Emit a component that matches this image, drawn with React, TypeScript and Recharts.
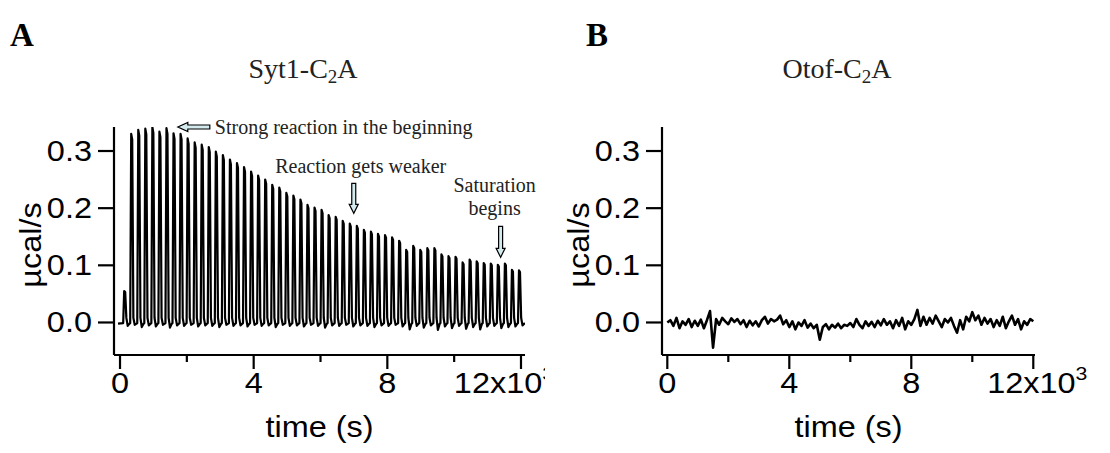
import React from 'react';
import { LineChart, Line, XAxis, YAxis, ReferenceDot, Label } from 'recharts';

const SANS = '"Liberation Sans", Arial, Helvetica, sans-serif';
const SERIF = '"Liberation Serif", "Times New Roman", serif';

// ---------- shared axis ticks ----------
const xTicks = [0, 2000, 4000, 6000, 8000, 10000, 12000];
const xTickLabels = ['0', '', '4', '', '8', '', '12x10'];
const xExponent = '3';
const yTicks = [0, 0.1, 0.2, 0.3];
const yTickLabels = ['0.0', '0.1', '0.2', '0.3'];

// ---------- Panel A: Syt1-C2A (ITC injections) ----------
const injectionTimesA = [120, 330, 541, 752, 963, 1174, 1385, 1596, 1807, 2018, 2229, 2440, 2651, 2862, 3073, 3284, 3495, 3706, 3917, 4128, 4339, 4550, 4761, 4972, 5183, 5394, 5605, 5816, 6027, 6238, 6449, 6660, 6871, 7082, 7293, 7504, 7715, 7926, 8137, 8348, 8559, 8770, 8981, 9192, 9403, 9614, 9825, 10036, 10247, 10458, 10669, 10880, 11091, 11302, 11513, 11724, 11935];
const peakHeightsA = [0.055,
  0.330, 0.337, 0.339, 0.342, 0.334, 0.340, 0.331, 0.330, 0.322, 0.315,
  0.311, 0.307, 0.299, 0.293, 0.285, 0.279, 0.272, 0.264, 0.257, 0.250,
  0.241, 0.236, 0.227, 0.222, 0.215, 0.206, 0.201, 0.197, 0.188, 0.185,
  0.178, 0.173, 0.169, 0.162, 0.159, 0.155, 0.153, 0.149, 0.143, 0.127,
  0.134, 0.127, 0.130, 0.130, 0.119, 0.116, 0.115, 0.105, 0.110, 0.107,
  0.104, 0.103, 0.101, 0.103, 0.092, 0.091];
const dipsA = [-0.006, -0.004, -0.008, -0.005, -0.007, -0.004, -0.009, -0.005, -0.006, -0.004,
  -0.007, -0.005, -0.006, -0.008, -0.004, -0.006, -0.005, -0.007, -0.004, -0.006,
  -0.005, -0.008, -0.004, -0.006, -0.005, -0.007, -0.004, -0.006, -0.009, -0.005,
  -0.006, -0.004, -0.007, -0.005, -0.006, -0.008, -0.005, -0.006, -0.004, -0.007,
  -0.012, -0.006, -0.009, -0.005, -0.013, -0.007, -0.010, -0.006, -0.011, -0.008,
  -0.012, -0.007, -0.006, -0.010, -0.008, -0.007, -0.005];
const traceStartA = { t: -60, v: -0.002 };
const traceEndA = { t: 12060, v: -0.004 };

// ---------- Panel B: Otof-C2A (flat noisy trace) ----------
const timesB = [0, 100, 200, 300, 400, 500, 600, 700, 800, 900, 1000, 1100, 1200, 1300, 1400, 1500, 1600, 1700, 1800, 1900, 2000, 2100, 2200, 2300, 2400, 2500, 2600, 2700, 2800, 2900, 3000, 3100, 3200, 3300, 3400, 3500, 3600, 3700, 3800, 3900, 4000, 4100, 4200, 4300, 4400, 4500, 4600, 4700, 4800, 4900, 5000, 5100, 5200, 5300, 5400, 5500, 5600, 5700, 5800, 5900, 6000, 6100, 6200, 6300, 6400, 6500, 6600, 6700, 6800, 6900, 7000, 7100, 7200, 7300, 7400, 7500, 7600, 7700, 7800, 7900, 8000, 8100, 8200, 8300, 8400, 8500, 8600, 8700, 8800, 8900, 9000, 9100, 9200, 9300, 9400, 9500, 9600, 9700, 9800, 9900, 10000, 10100, 10200, 10300, 10400, 10500, 10600, 10700, 10800, 10900, 11000, 11100, 11200, 11300, 11400, 11500, 11600, 11700, 11800, 11900, 12000];
const valuesB = [0.000, 0.004, -0.006, 0.008, -0.010, 0.002, -0.004, 0.006, -0.008, 0.003,
  -0.006, 0.005, -0.010, 0.004, 0.020, -0.044, 0.006, -0.004, 0.008, 0.002,
  -0.003, 0.007, 0.001, 0.006, -0.003, 0.004, -0.008, 0.003, -0.005, 0.002,
  -0.007, 0.004, 0.010, -0.002, 0.006, 0.002, 0.005, 0.012, -0.003, 0.004,
  -0.008, 0.002, -0.012, 0.000, -0.006, 0.004, -0.009, -0.002, -0.010, -0.004,
  -0.030, -0.008, -0.003, -0.012, -0.004, -0.009, -0.002, -0.010, -0.004, -0.006,
  -0.001, -0.008, 0.006, -0.004, -0.010, 0.002, -0.006, 0.001, -0.008, 0.003,
  -0.005, 0.006, -0.004, 0.002, -0.010, 0.004, -0.006, 0.008, -0.012, 0.002,
  -0.004, 0.006, 0.022, -0.006, 0.010, -0.004, 0.008, -0.002, 0.012, 0.002,
  -0.008, 0.006, 0.000, 0.008, -0.006, -0.018, 0.004, -0.012, 0.010, 0.002,
  0.018, 0.004, 0.012, -0.004, 0.008, -0.002, 0.006, -0.008, 0.004, -0.006,
  0.010, -0.010, 0.002, 0.012, -0.004, 0.006, -0.012, 0.002, -0.004, 0.006,
  0.002];

// ---------- build tables for the library ----------
const dataA: { t: number; v: number }[] = [traceStartA];
injectionTimesA.forEach((T, i) => {
  const p = peakHeightsA[i];
  dataA.push({ t: T - 25, v: -0.001 });
  dataA.push({ t: T + 5, v: p });
  dataA.push({ t: T + 35, v: p * 0.97 });
  dataA.push({ t: T + 70, v: 0.008 });
  dataA.push({ t: T + 110, v: dipsA[i] });
  dataA.push({ t: T + 165, v: -0.002 });
});
dataA.push(traceEndA);

const dataB = timesB.map((t, i) => ({ t, v: valuesB[i] }));

// ---------- styling ----------
const TICK_FONT = 29;
const TICK_SX = 1.12;

const SText = ({ x, y, sx = 1, anchor = 'middle', size, family = SANS, weight = 'normal', fill = '#000', children }: any) => (
  <text
    transform={`translate(${x} ${y}) scale(${sx} 1)`}
    x={0}
    y={0}
    textAnchor={anchor}
    fontFamily={family}
    fontSize={size}
    fontWeight={weight}
    fill={fill}
  >
    {children}
  </text>
);

const makeXTick = (lastShift: number) => (props: any) => {
  const { x, y, payload } = props;
  const idx = xTicks.indexOf(payload.value);
  const label = xTickLabels[idx];
  const major = label !== '';
  const isLast = idx === xTicks.length - 1;
  return (
    <g>
      <line x1={x} y1={y} x2={x} y2={y + (major ? 14 : 7)} stroke="#000" strokeWidth={2.2} />
      {major && (
        <SText x={x + (isLast ? lastShift : 0)} y={y + 38} size={TICK_FONT} sx={TICK_SX}>
          {label}
          {isLast && (
            <tspan fontSize={19} dy={-13}>
              {xExponent}
            </tspan>
          )}
        </SText>
      )}
    </g>
  );
};

const YTick = (props: any) => {
  const { x, y, payload } = props;
  const idx = yTicks.findIndex((v) => Math.abs(v - payload.value) < 1e-9);
  return (
    <g>
      <line x1={x - 16} y1={y} x2={x} y2={y} stroke="#000" strokeWidth={2.2} />
      <SText x={x - 22} y={y + 10} size={TICK_FONT} sx={TICK_SX} anchor="end">
        {yTickLabels[idx]}
      </SText>
    </g>
  );
};

const xTitle = (props: any) => {
  const { viewBox } = props;
  return (
    <SText x={viewBox.x + viewBox.width / 2} y={viewBox.y + 82} size={TICK_FONT} sx={TICK_SX}>
      time (s)
    </SText>
  );
};

const yTitle = (props: any) => {
  const { viewBox } = props;
  const cx = viewBox.x + 17;
  const cy = viewBox.y + viewBox.height / 2 + 4;
  return (
    <text
      transform={`translate(${cx} ${cy}) rotate(-90) scale(${TICK_SX} 1)`}
      x={0}
      y={0}
      textAnchor="middle"
      dominantBaseline="central"
      fontFamily={SANS}
      fontSize={TICK_FONT}
      fill="#000"
    >
      µcal/s
    </text>
  );
};

const ARROW_FILL = '#d3ebef';

const arrowPoly = (pts: number[][], cx: number, cy: number) =>
  pts.map(([a, b]) => `${cx + a},${cy + b}`).join(' ');

const StrongNote = (props: any) => {
  const { cx, cy } = props;
  const pts = [[0, 0], [10, -4.5], [10, -2], [32, -2], [32, 2], [10, 2], [10, 4.5]];
  return (
    <g>
      <polygon points={arrowPoly(pts, cx, cy)} fill={ARROW_FILL} stroke="#000" strokeWidth={1.2} />
      <text x={cx + 37} y={cy + 7} fontFamily={SERIF} fontSize={20} fill="#222">
        Strong reaction in the beginning
      </text>
    </g>
  );
};

const downArrow = (cx: number, cy: number, len: number) => {
  const pts = [[0, 0], [-4.5, -9], [-2, -9], [-2, -len], [2, -len], [2, -9], [4.5, -9]];
  return <polygon points={arrowPoly(pts, cx, cy)} fill={ARROW_FILL} stroke="#000" strokeWidth={1.2} />;
};

const WeakerNote = (props: any) => {
  const { cx, cy } = props;
  return (
    <g>
      {downArrow(cx, cy, 30)}
      <text x={cx + 7} y={cy - 40} textAnchor="middle" fontFamily={SERIF} fontSize={20} fill="#222">
        Reaction gets weaker
      </text>
    </g>
  );
};

const SaturationNote = (props: any) => {
  const { cx, cy } = props;
  return (
    <g>
      {downArrow(cx, cy, 31)}
      <text x={cx - 6} y={cy - 65} textAnchor="middle" fontFamily={SERIF} fontSize={20} fill="#222">
        Saturation
      </text>
      <text x={cx - 6} y={cy - 42} textAnchor="middle" fontFamily={SERIF} fontSize={20} fill="#222">
        begins
      </text>
    </g>
  );
};

const axisStyle = { stroke: '#000', strokeWidth: 2.2 };

const Panel = ({ data, width, height, margin, xDomain, lastShift, lineWidth, children }: any) => {
  const XTick = makeXTick(lastShift);
  return (
    <LineChart width={width} height={height} data={data} margin={margin}>
      <XAxis
        dataKey="t"
        type="number"
        domain={xDomain}
        allowDataOverflow
        ticks={xTicks}
        interval={0}
        height={60}
        tickSize={0}
        tickMargin={0}
        tickLine={false}
        axisLine={axisStyle}
        tick={(p: any) => <XTick {...p} />}
      >
        <Label content={xTitle} />
      </XAxis>
      <YAxis
        type="number"
        domain={[-0.0569, 0.342]}
        allowDataOverflow
        ticks={yTicks}
        interval={0}
        width={100}
        tickSize={0}
        tickMargin={0}
        tickLine={false}
        axisLine={axisStyle}
        tick={(p: any) => <YTick {...p} />}
      >
        <Label content={yTitle} />
      </YAxis>
      <Line
        type="linear"
        dataKey="v"
        stroke="#000"
        strokeWidth={lineWidth}
        dot={false}
        isAnimationActive={false}
        strokeLinejoin="round"
      />
      {children}
    </LineChart>
  );
};

export default function App() {
  return (
    <div style={{ position: 'absolute', left: 0, top: 0, width: 1110, height: 453, background: '#fff', overflow: 'hidden' }}>
      <div style={{ position: 'absolute', left: 0, top: 0 }}>
        <Panel
          data={dataA}
          width={560}
          height={453}
          margin={{ top: 127, right: 35, bottom: 38, left: 14 }}
          xDomain={[-180, 12120]}
          lastShift={-17}
          lineWidth={2.2}
        >
          <ReferenceDot x={1730} y={0.342} r={0} ifOverflow="visible" shape={(p: any) => <StrongNote {...p} />} />
          <ReferenceDot x={6995} y={0.191} r={0} ifOverflow="visible" shape={(p: any) => <WeakerNote {...p} />} />
          <ReferenceDot x={11390} y={0.114} r={0} ifOverflow="visible" shape={(p: any) => <SaturationNote {...p} />} />
        </Panel>
      </div>
      <div style={{ position: 'absolute', left: 545, top: 0, background: '#fff' }}>
        <Panel
          data={dataB}
          width={565}
          height={453}
          margin={{ top: 127, right: 75, bottom: 38, left: 17 }}
          xDomain={[-174, 12056]}
          lastShift={4}
          lineWidth={2.6}
        />
      </div>
      <svg
        width={1110}
        height={453}
        style={{ position: 'absolute', left: 0, top: 0, pointerEvents: 'none' }}
      >
        <SText x={10} y={46} size={33} family={SERIF} weight="bold" anchor="start">A</SText>
        <text x={303} y={78} textAnchor="middle" fontFamily={SERIF} fontSize={28} fill="#222">
          Syt1-C<tspan fontSize={19} dy={5}>2</tspan><tspan dy={-5}>A</tspan>
        </text>
        <SText x={586} y={46} size={33} family={SERIF} weight="bold" anchor="start">B</SText>
        <text x={837} y={78} textAnchor="middle" fontFamily={SERIF} fontSize={28} fill="#222">
          Otof-C<tspan fontSize={19} dy={5}>2</tspan><tspan dy={-5}>A</tspan>
        </text>
      </svg>
    </div>
  );
}
